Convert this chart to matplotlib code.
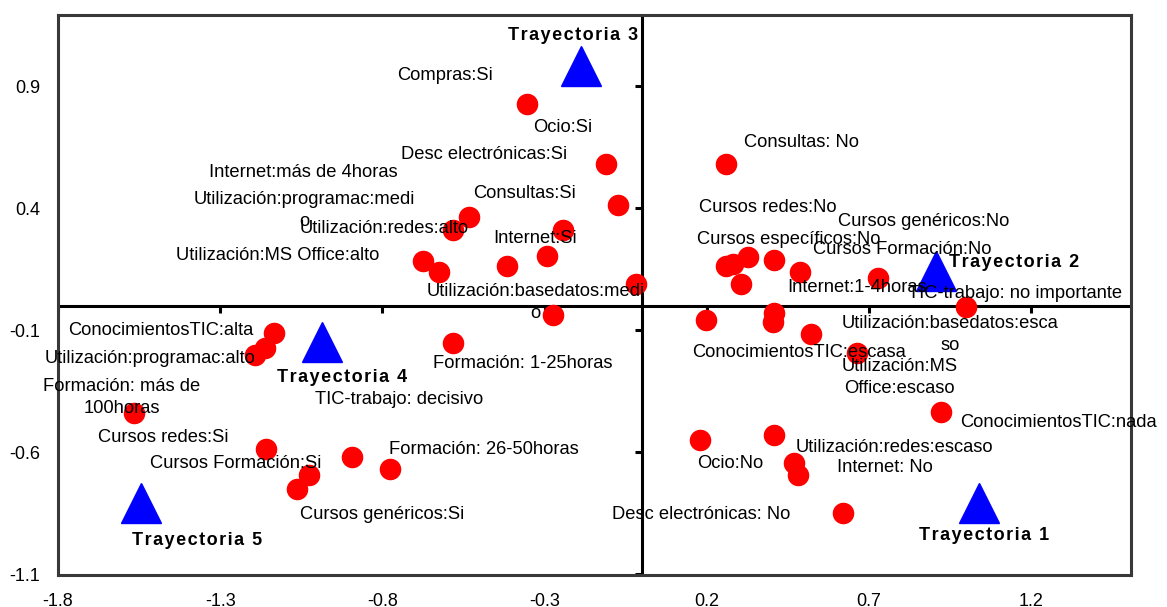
import numpy as np
import matplotlib
matplotlib.use("Agg")
import matplotlib.pyplot as plt

plt.rcParams['font.family'] = ['Liberation Sans', 'DejaVu Sans']

# ejes
x_ticks = [-1.8, -1.3, -0.8, -0.3, 0.2, 0.7, 1.2]
y_ticks = [-1.1, -0.6, -0.1, 0.4, 0.9]
x_tick_labels = ['-1.8', '-1.3', '-0.8', '-0.3', '0.2', '0.7', '1.2']
y_tick_labels = ['-1.1', '-0.6', '-0.1', '0.4', '0.9']

# categorias (puntos rojos)
cat_x = [-0.355, -0.111, -0.074, -0.533, -0.583, -0.244, -0.293, -0.416, -0.675, -0.626,
         -0.018, -0.274, -0.583, -1.135, -1.163, -1.193, -1.566, -1.159, -0.894, -0.777,
         -1.027, -1.064,
         0.259, 0.259, 0.281, 0.327, 0.407, 0.487, 0.305, 0.728, 0.999, 0.197,
         0.407, 0.404, 0.521, 0.663, 0.922, 0.179, 0.407, 0.469, 0.481, 0.620]
cat_y = [0.826, 0.580, 0.411, 0.363, 0.310, 0.310, 0.203, 0.162, 0.183, 0.138,
         0.089, -0.038, -0.153, -0.112, -0.174, -0.202, -0.441, -0.588, -0.620, -0.669,
         -0.694, -0.751,
         0.580, 0.162, 0.170, 0.199, 0.187, 0.138, 0.089, 0.113, -0.006, -0.059,
         -0.030, -0.067, -0.116, -0.194, -0.436, -0.551, -0.531, -0.645, -0.694, -0.850]

# trayectorias (triangulos azules)
traj_x = [1.038, 0.907, -0.188, -0.987, -1.545]
traj_y = [-0.809, 0.142, 0.984, -0.151, -0.809]

# etiquetas de categorias: texto, x, y
cat_labels = ["Compras:Si", "Ocio:Si", "Desc electrónicas:Si", "Internet:más de 4horas",
              "Utilización:programac:medi\no", "Utilización:redes:alto", "Consultas:Si",
              "Internet:Si", "Utilización:MS Office:alto", "Utilización:basedatos:medi\no",
              "ConocimientosTIC:alta", "Utilización:programac:alto", "Formación: más de\n100horas",
              "Cursos redes:Si", "Cursos Formación:Si", "Cursos genéricos:Si",
              "TIC-trabajo: decisivo", "Formación: 1-25horas", "Formación: 26-50horas",
              "Consultas: No", "Cursos redes:No", "Cursos específicos:No", "Cursos genéricos:No",
              "Cursos Formación:No", "Internet:1-4horas", "TIC-trabajo: no importante",
              "Utilización:basedatos:esca\nso", "ConocimientosTIC:escasa",
              "Utilización:MS\nOffice:escaso", "ConocimientosTIC:nada",
              "Utilización:redes:escaso", "Internet: No", "Ocio:No", "Desc electrónicas: No"]
lab_x = [-0.755, -0.335, -0.743, -1.335, -1.041, -1.054, -0.520, -0.459, -1.436, -0.329,
         -1.769, -1.840, -1.603, -1.677, -1.517, -1.054, -1.008, -0.644, -0.780,
         0.315, 0.176, 0.170, 0.605, 0.528, 0.448, 0.821, 0.950, 0.155, 0.793, 0.981,
         0.475, 0.602, 0.170, -0.092]
lab_y = [0.941, 0.728, 0.621, 0.544, 0.391, 0.314, 0.461, 0.277, 0.207, 0.013,
         -0.104, -0.215, -0.375, -0.539, -0.645, -0.858, -0.383, -0.239, -0.588,
         0.670, 0.404, 0.273, 0.343, 0.228, 0.076, 0.048, -0.118, -0.194, -0.293, -0.481,
         -0.580, -0.662, -0.645, -0.858]

traj_labels = ["Trayectoria 1", "Trayectoria 2", "Trayectoria 3", "Trayectoria 4", "Trayectoria 5"]
traj_lab_x = [0.855, 0.947, -0.412, -1.125, -1.572]
traj_lab_y = [-0.944, 0.175, 1.105, -0.293, -0.961]

fig = plt.figure(figsize=(11.67, 6.07), dpi=100)
ax = fig.add_axes([0.0497, 0.0527, 0.9196, 0.9226])

ax.set_xlim(-1.8, 1.508)
ax.set_ylim(-1.104, 1.191)

# ejes interiores en 0 con sus marcas
ax.axhline(0, color='black', lw=2.2, zorder=2)
ax.axvline(0, color='black', lw=2.2, zorder=2)
ax.plot(x_ticks, np.zeros(len(x_ticks)), ls='none', marker=3, ms=5, mew=2.2, color='black', zorder=2)
ax.plot(np.zeros(len(y_ticks)), y_ticks, ls='none', marker=0, ms=5, mew=2.2, color='black', zorder=2)

ax.plot(cat_x, cat_y, ls='none', marker='o', ms=14.5, color='#ff0000', mec='#ff0000', zorder=3)
ax.plot(traj_x, traj_y, ls='none', marker='^', ms=29, color='#0000ff', mec='#0000ff', zorder=3)

for t, x, y in zip(cat_labels, lab_x, lab_y):
    if "\n" in t:
        ax.text(x, y, t, ha='center', va='center', multialignment='center',
                fontsize=13.2, linespacing=1.4, zorder=4)
    else:
        ax.text(x, y, t, ha='left', va='center', fontsize=13.2, zorder=4)

# letras espaciadas como en el original
for t, x, y in zip(traj_labels, traj_lab_x, traj_lab_y):
    ax.text(x, y, "\u200a".join(t), ha='left', va='center', fontsize=13,
            fontweight='bold', zorder=4)

ax.set_xticks(x_ticks)
ax.set_xticklabels(x_tick_labels)
ax.set_yticks(y_ticks)
ax.set_yticklabels(y_tick_labels)
ax.tick_params(length=0, labelsize=13, pad=13)

for s in ax.spines.values():
    s.set_linewidth(2.2)
    s.set_color('#383838')

fig.savefig("out.png", dpi=100)
